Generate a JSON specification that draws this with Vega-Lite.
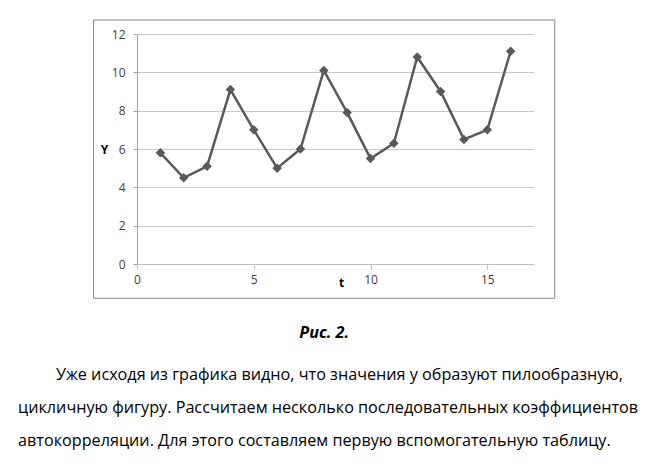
{
  "$schema": "https://vega.github.io/schema/vega-lite/v6.json",
  "background": "white",
  "padding": {"left": 18, "top": 19, "right": 5, "bottom": 5},
  "config": {
    "view": {"stroke": null},
    "font": "Open Sans",
    "concat": {"spacing": 0}
  },
  "title": {
    "text": [
      "\u200b\u00a0\u00a0\u00a0\u00a0\u00a0\u00a0\u00a0\u00a0\u00a0Уже исходя из графика видно, что значения у образуют пилообразную,",
      "цикличную фигуру. Рассчитаем несколько последовательных коэффициентов",
      "автокорреляции. Для этого составляем первую вспомогательную таблицу."
    ],
    "orient": "bottom",
    "anchor": "start",
    "frame": "bounds",
    "align": "left",
    "font": "Open Sans",
    "fontSize": 16.2,
    "fontWeight": "normal",
    "lineHeight": 33,
    "color": "#000000",
    "offset": 26,
    "dx": -75
  },
  "vconcat": [
    {
      "width": 397,
      "height": 230,
      "title": {
        "text": "Рис. 2.",
        "orient": "bottom",
        "anchor": "middle",
        "frame": "bounds",
        "font": "Open Sans",
        "fontSize": 16.2,
        "fontWeight": "bold",
        "fontStyle": "italic",
        "color": "#000000",
        "offset": 26
      },
      "layer": [
        {
          "data": {"values": [{"frame": 1}]},
          "mark": {"type": "rect", "fill": "white", "fillOpacity": 0, "stroke": "#868686", "strokeWidth": 1, "clip": false},
          "encoding": {
            "x": {
              "datum": -1.86,
              "type": "quantitative",
              "scale": {"domain": [0, 17], "nice": false, "zero": false},
              "axis": {
                "values": [0, 5, 10, 15],
                "grid": false,
                "title": "t",
                "titleFont": "Open Sans",
                "titleFontSize": 12,
                "titleFontWeight": "bold",
                "titleColor": "#000000",
                "titleX": 204,
                "titleY": 18,
                "titleBaseline": "middle",
                "titleAlign": "center",
                "labelFont": "Open Sans",
                "labelFontSize": 12,
                "labelColor": "#404040",
                "labelPadding": 5,
                "tickSize": 5,
                "tickColor": "#bfbfbf",
                "domainColor": "#bfbfbf",
                "labelFlush": false
              }
            },
            "x2": {"datum": 17.89},
            "y": {
              "datum": -1.79,
              "type": "quantitative",
              "scale": {"domain": [0, 12], "nice": false, "zero": false},
              "axis": {
                "values": [0, 2, 4, 6, 8, 10, 12],
                "grid": true,
                "gridColor": "#c8c8c8",
                "title": "Y",
                "titleAngle": 0,
                "titleFont": "Open Sans",
                "titleFontSize": 12,
                "titleFontWeight": "bold",
                "titleColor": "#000000",
                "titleX": -33,
                "titleY": 115,
                "titleAlign": "center",
                "titleBaseline": "middle",
                "labelFont": "Open Sans",
                "labelFontSize": 12,
                "labelColor": "#404040",
                "labelPadding": 8,
                "tickSize": 4,
                "tickColor": "#a0a0a0",
                "domainColor": "#a0a0a0",
                "labelFlush": false
              }
            },
            "y2": {"datum": 12.73}
          }
        },
        {
          "data": {
            "values": [
              {"t": 1, "y": 5.8},
              {"t": 2, "y": 4.5},
              {"t": 3, "y": 5.1},
              {"t": 4, "y": 9.1},
              {"t": 5, "y": 7.0},
              {"t": 6, "y": 5.0},
              {"t": 7, "y": 6.0},
              {"t": 8, "y": 10.1},
              {"t": 9, "y": 7.9},
              {"t": 10, "y": 5.5},
              {"t": 11, "y": 6.3},
              {"t": 12, "y": 10.8},
              {"t": 13, "y": 9.0},
              {"t": 14, "y": 6.5},
              {"t": 15, "y": 7.0},
              {"t": 16, "y": 11.1}
            ]
          },
          "encoding": {
            "x": {
              "field": "t",
              "type": "quantitative",
              "scale": {"domain": [0, 17], "nice": false, "zero": false},
              "axis": {
                "values": [0, 5, 10, 15],
                "grid": false,
                "title": "t",
                "titleFont": "Open Sans",
                "titleFontSize": 12,
                "titleFontWeight": "bold",
                "titleColor": "#000000",
                "titleX": 204,
                "titleY": 18,
                "titleBaseline": "middle",
                "titleAlign": "center",
                "labelFont": "Open Sans",
                "labelFontSize": 12,
                "labelColor": "#404040",
                "labelPadding": 5,
                "tickSize": 5,
                "tickColor": "#bfbfbf",
                "domainColor": "#bfbfbf",
                "labelFlush": false
              }
            },
            "y": {
              "field": "y",
              "type": "quantitative",
              "scale": {"domain": [0, 12], "nice": false, "zero": false},
              "axis": {
                "values": [0, 2, 4, 6, 8, 10, 12],
                "grid": true,
                "gridColor": "#c8c8c8",
                "title": "Y",
                "titleAngle": 0,
                "titleFont": "Open Sans",
                "titleFontSize": 12,
                "titleFontWeight": "bold",
                "titleColor": "#000000",
                "titleX": -33,
                "titleY": 115,
                "titleAlign": "center",
                "titleBaseline": "middle",
                "labelFont": "Open Sans",
                "labelFontSize": 12,
                "labelColor": "#404040",
                "labelPadding": 8,
                "tickSize": 4,
                "tickColor": "#a0a0a0",
                "domainColor": "#a0a0a0",
                "labelFlush": false
              }
            }
          },
          "layer": [
            {"mark": {"type": "line", "color": "#595959", "strokeWidth": 2.5}},
            {"mark": {"type": "point", "shape": "diamond", "size": 90, "filled": true, "color": "#595959", "opacity": 1}}
          ]
        }
      ]
    }
  ]
}
